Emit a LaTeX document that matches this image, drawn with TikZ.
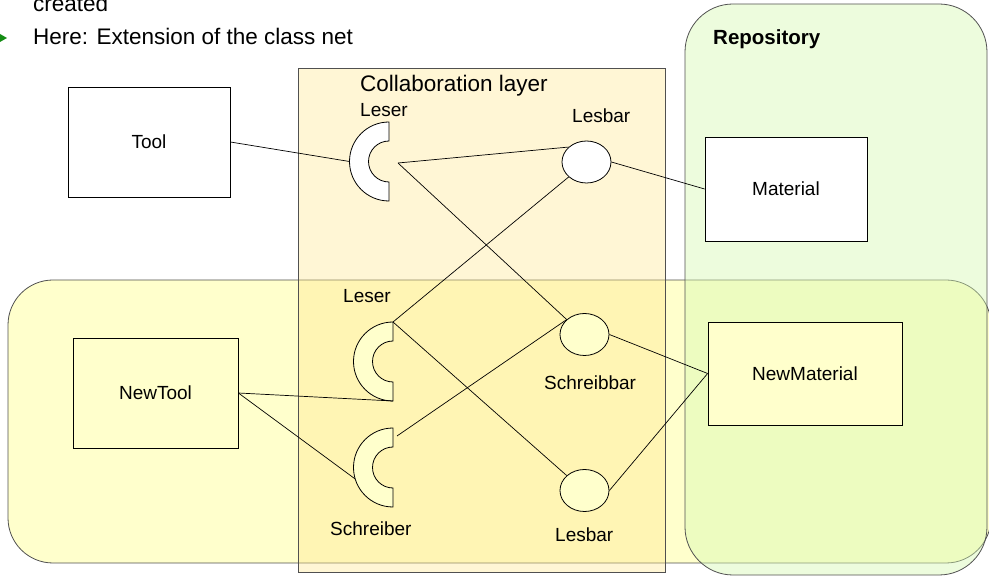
\documentclass[tikz,border=0pt]{standalone}
\usepackage{fontspec}
\setmainfont{Liberation Sans}
\usetikzlibrary{shapes.geometric}
\definecolor{repofill}{RGB}{214,249,177}
\definecolor{yelfill}{RGB}{255,255,204}
\definecolor{layerfill}{RGB}{255,230,141}
\definecolor{lightyel}{RGB}{255,255,204}
\definecolor{edgegray}{RGB}{80,80,80}
\definecolor{bulletgreen}{RGB}{20,140,20}
\newcommand{\drawsocket}[3]{%
  \draw[socketline, fill=#3] ({#1},{#2+39.5}) arc[start angle=90, end angle=270, radius=39.5pt]
    -- ({#1},{#2-20.5}) arc[start angle=270, end angle=90, radius=20.5pt] -- cycle;}
\begin{document}
\begin{tikzpicture}[x=1pt,y=1pt,
  container/.style={draw=edgegray, line width=0.8pt},
  classbox/.style={draw=black, line width=0.8pt, rectangle, inner sep=0pt, font=\fontsize{19}{23}\selectfont},
  port/.style={draw=black, line width=0.8pt, ellipse, minimum width=49pt, minimum height=42pt, inner sep=0pt},
  socketline/.style={draw=black, line width=0.8pt},
  lbl/.style={anchor=base west, inner sep=0pt, font=\fontsize{19}{23}\selectfont},
  bigtext/.style={anchor=base west, inner sep=0pt, font=\fontsize{22.5}{27}\selectfont},
  conn/.style={draw=black, line width=0.7pt}]
\useasboundingbox (0,0) rectangle (989,-577);

% containers
\path[container, fill=yelfill, rounded corners=45pt] (8,-280) rectangle (991,-563);
\path[container, fill=repofill, fill opacity=0.43, rounded corners=48pt] (685,-4) rectangle (987,-575);
\path[container, fill=layerfill, fill opacity=0.37] (298,-68) rectangle (665,-572);

% header text
\fill[bulletgreen] (0,-34) -- (7,-38) -- (0,-42) -- cycle;
\node[bigtext] (created) at (33,-12) {created};
\node[bigtext] (here) at (33,-45) {Here: Extension of the class net};
\node[bigtext] (collab) at (360,-92) {Collaboration layer};
\node[anchor=base west, inner sep=0pt, font=\fontsize{20.5}{25}\selectfont\bfseries] (repo) at (713,-45) {Repository};

% class boxes
\node[classbox, fill=white, minimum width=162pt, minimum height=110pt] (tool) at (149,-142) {Tool};
\node[classbox, fill=white, minimum width=162pt, minimum height=104pt] (mat) at (786,-189) {Material};
\node[classbox, fill=lightyel, minimum width=165pt, minimum height=110pt] (ntool) at (155.5,-393) {NewTool};
\node[classbox, fill=lightyel, minimum width=194pt, minimum height=103pt] (nmat) at (805,-373.5) {NewMaterial};

% ports (ellipses)
\node[port, fill=white] (e1) at (586.5,-162) {};
\node[port, fill=lightyel] (e2) at (584.5,-334.5) {};
\node[port, fill=lightyel] (e3) at (584.5,-490.5) {};

% sockets
\drawsocket{389}{-161.5}{white}
\drawsocket{393}{-361.5}{lightyel}
\drawsocket{393}{-467.5}{lightyel}
\coordinate (s1w) at (349.5,-161.5);
\coordinate (s1m) at (398,-163);
\coordinate (s2t) at (393,-322);
\coordinate (s2b) at (393,-401);
\coordinate (s3w) at (355.2,-479);
\coordinate (s3m) at (397,-436);

% labels
\node[lbl] (l1) at (360,-117) {Leser};
\node[lbl] (l2) at (572,-123) {Lesbar};
\node[lbl] (l3) at (343,-303) {Leser};
\node[lbl] (l4) at (330,-535) {Schreiber};
\node[lbl] (l5) at (544,-390) {Schreibbar};
\node[lbl] (l6) at (555,-541) {Lesbar};

% connectors
\draw[conn] (tool.east) -- (s1w);
\draw[conn] (s1m) -- (e1.140);
\draw[conn] (s1m) -- (e2.140);
\draw[conn] (e1.east) -- (mat.west);
\draw[conn] (s2t) -- (e1.220);
\draw[conn] (s2t) -- (e3.140);
\draw[conn] (ntool.east) -- (s2b);
\draw[conn] (ntool.east) -- (s3w);
\draw[conn] (s3m) -- (e2.140);
\draw[conn] (e2.east) -- (nmat.west);
\draw[conn] (e3.east) -- (nmat.west);
\end{tikzpicture}
\end{document}
